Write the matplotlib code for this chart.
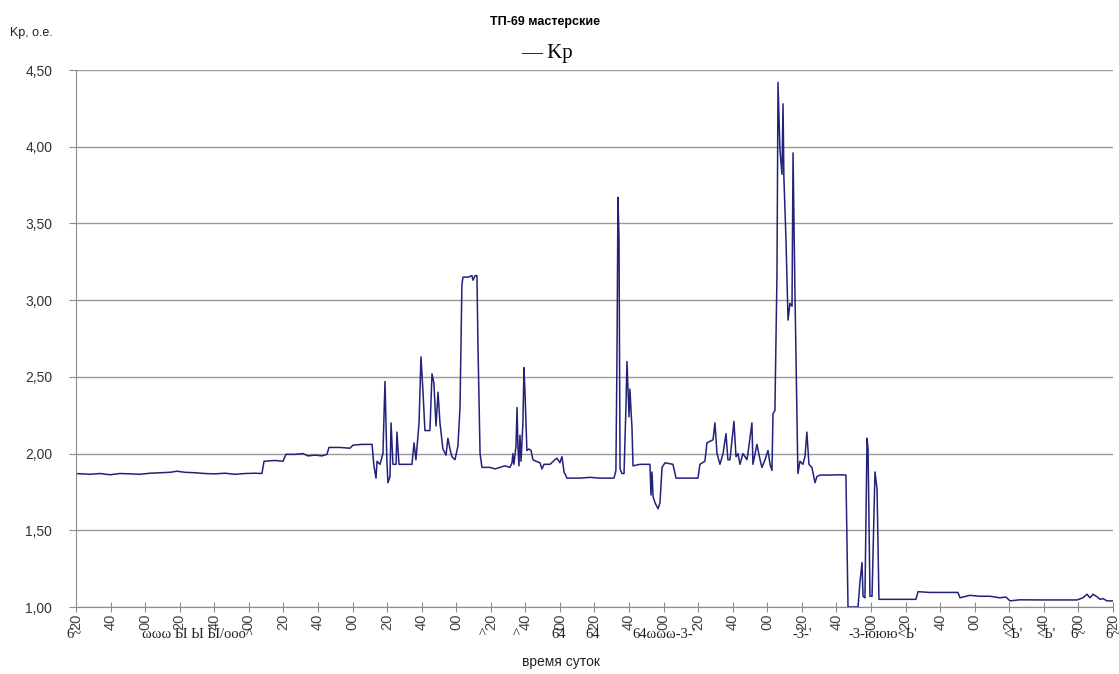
import matplotlib
matplotlib.use('Agg')
import matplotlib.pyplot as plt

# время, минуты от 6:20
minutes = [0, 8.1, 13.9, 19.7, 25.5, 31.2, 37.0, 42.8, 48.6, 54.4, 58.4, 63.1, 68.9, 74.6,
           80.4, 86.2, 92.0, 97.8, 103.6, 107.6, 108.8, 115.1, 119.8, 121.5, 126.7, 131.3,
           134.2, 138.3, 142.3, 145.2, 146.4, 152.8, 158.5, 160.3, 165.5, 171.3,
           172.4, 173.6, 174.2, 175.9, 177.6, 178.8, 179.9, 180.5, 181.7, 182.3, 183.4,
           185.2, 185.7, 186.9, 190.4, 194.4, 195.6, 196.7, 198.5, 199.6, 200.8, 201.9,
           204.8, 206.0, 207.1, 208.3, 209.5, 210.6, 212.3, 214.1, 215.2, 216.4, 217.5,
           219.3, 221.0, 222.2, 223.3, 223.9, 226.8, 229.1, 229.7, 230.9, 232.0, 232.6,
           233.8, 234.9, 239.6, 242.4, 245.3, 248.2, 251.1, 252.3, 252.8, 253.4, 254.6,
           255.2, 255.7, 256.3, 256.9, 257.5, 258.6, 259.2, 259.8, 260.9, 262.1, 263.3,
           264.4, 266.2, 268.5, 269.6, 270.8, 274.3, 277.1, 278.3, 280.0, 281.2, 282.4,
           284.1, 291.6, 297.4, 303.2, 311.3, 312.4, 313.0, 313.6, 314.2, 314.8, 315.9,
           317.1, 318.2, 318.8, 320.0, 320.5, 321.7, 322.3, 326.3, 332.1, 332.7, 333.3,
           333.9, 335.0, 336.8, 337.9, 339.1, 340.8, 345.4, 347.2, 355.3, 359.9, 361.0,
           363.9, 365.1, 368.6, 369.7, 370.9, 372.6, 374.4, 376.1, 377.2, 378.4, 380.7,
           381.9, 383.0, 384.2, 385.9, 388.2, 388.8, 391.1, 391.7, 394.0, 395.8, 396.9,
           398.7, 400.4, 401.6, 402.7, 403.3, 404.4, 405.6, 406.2, 407.3, 408.5, 409.1,
           409.6, 410.8, 412.0, 413.1, 414.3, 414.9, 416.0, 417.2, 417.7, 418.9, 420.6,
           421.8, 422.9, 424.1, 425.8, 427.6, 428.7, 430.5, 436.3, 442.0, 445.5, 446.7,
           452.5, 453.6, 454.8, 455.4, 456.5, 457.7, 458.3, 459.4, 460.6, 462.3, 463.5,
           464.6, 471.0, 476.7, 486.0, 487.2, 494.1, 502.8, 510.3, 511.5, 513.2, 517.2,
           523.0, 528.8, 534.6, 538.1, 540.4, 546.2, 557.8, 569.3, 579.2, 582.6, 585.0,
           586.7, 588.4, 590.7, 592.5, 594.2, 596.5, 600.0]

kp = [1.87, 1.865, 1.87, 1.862, 1.87, 1.868, 1.865, 1.872, 1.875, 1.878, 1.885, 1.878, 1.875, 1.87,
      1.868, 1.872, 1.865, 1.87, 1.872, 1.87, 1.95, 1.955, 1.95, 1.995, 1.995, 2.0,
      1.985, 1.99, 1.985, 1.995, 2.04, 2.04, 2.035, 2.055, 2.06, 2.06,
      1.92, 1.84, 1.95, 1.93, 2.0, 2.47, 1.95, 1.81, 1.85, 2.20, 1.93,
      1.93, 2.14, 1.93, 1.93, 1.93, 2.07, 1.96, 2.2, 2.63, 2.4, 2.15,
      2.15, 2.52, 2.46, 2.18, 2.40, 2.2, 2.03, 1.99, 2.1, 2.03, 1.98,
      1.96, 2.05, 2.3, 3.1, 3.15, 3.15, 3.16, 3.13, 3.16, 3.16, 2.7,
      2.0, 1.91, 1.91, 1.90, 1.91, 1.92, 1.91, 1.94, 2.0, 1.93, 2.05,
      2.30, 2.05, 1.92, 2.12, 1.95, 2.2, 2.56, 2.4, 2.02, 2.03, 2.02,
      1.96, 1.95, 1.94, 1.9, 1.93, 1.93, 1.96, 1.97, 1.94, 1.98, 1.88,
      1.84, 1.84, 1.845, 1.84, 1.84, 1.89, 2.6, 3.67, 3.4, 1.9, 1.87,
      1.87, 2.3, 2.6, 2.24, 2.42, 2.17, 1.92, 1.93, 1.93, 1.73, 1.88,
      1.72, 1.68, 1.64, 1.68, 1.91, 1.94, 1.93, 1.84, 1.84, 1.84, 1.93,
      1.95, 2.07, 2.09, 2.20, 2.0, 1.93, 2.0, 2.13, 1.96, 1.96, 2.21,
      1.98, 2.0, 1.93, 2.0, 1.96, 2.0, 2.20, 1.93, 2.06, 1.96, 1.91,
      1.96, 2.02, 1.93, 1.89, 2.26, 2.28, 3.17, 4.42, 3.98, 3.82, 4.28,
      3.80, 3.4, 2.87, 2.98, 2.96, 3.96, 3.05, 2.19, 1.87, 1.95, 1.93,
      1.98, 2.14, 1.93, 1.91, 1.81, 1.85, 1.86, 1.86, 1.862, 1.86, 1.0,
      1.0, 1.16, 1.29, 1.07, 1.06, 2.10, 2.03, 1.07, 1.07, 1.88, 1.77,
      1.05, 1.05, 1.05, 1.05, 1.10, 1.095, 1.095, 1.095, 1.06, 1.065, 1.076,
      1.07, 1.07, 1.06, 1.065, 1.04, 1.047, 1.046, 1.046, 1.046, 1.06, 1.083,
      1.06, 1.083, 1.068, 1.05, 1.055, 1.04, 1.04]

# подписи оси X (минуты), каждые 20 минут
tick_minutes = list(range(0, 601, 20))
tick_labels = ['20', '40', '00'] * 10 + ['20']

# обрывки подписей часов под осью (как на исходнике)
hour_bits = [(-1, '6~'), (70, 'ωωω Ы Ы Ы/ooo^'), (235, '^'), (255, '^'),
             (279, '64'), (299, '64'), (340, '64ωωω-3-\''), (420, '-3-\''),
             (467, '-3-ююю<Ь\''), (542, '<Ь\''), (561, '<Ь\''), (580, '6~'), (600, '6~')]

y_ticks = [1.0, 1.5, 2.0, 2.5, 3.0, 3.5, 4.0, 4.5]

grey = '#8c8c8c'

fig = plt.figure(figsize=(11.19, 6.74), dpi=100)
ax = fig.add_axes([0.0679, 0.0994, 0.9267, 0.7967])

ax.plot(minutes, kp, color='#22227a', linewidth=1.1)

ax.set_xlim(0, 600)
ax.set_ylim(1.0, 4.5)
ax.set_yticks(y_ticks)
ax.set_yticklabels([f'{v:.2f}'.replace('.', ',') for v in y_ticks],
                   fontsize=10, color='#333333', family='Liberation Sans')
ax.set_xticks(tick_minutes)
ax.set_xticklabels(tick_labels, rotation=90, fontsize=10.5, color='#444444',
                   family='Liberation Sans')

ax.grid(axis='y', color='#9a9a9a', linewidth=1.0)
ax.set_axisbelow(True)
for side in ['top', 'right']:
    ax.spines[side].set_visible(False)
for side in ['left', 'bottom']:
    ax.spines[side].set_color(grey)
ax.tick_params(axis='x', direction='inout', length=7, color=grey, pad=1)
ax.tick_params(axis='y', direction='out', length=5, color=grey, pad=12)

# горизонтальные обрывки подписей часов
for m, txt in hour_bits:
    ax.text(m, -0.052, txt, transform=ax.get_xaxis_transform(), ha='center', va='center',
            fontsize=10.5, family='Liberation Serif', color='#222222')

fig.text(0.487, 0.967, 'ТП-69 мастерские', ha='center', va='center',
         fontsize=9, fontweight='bold', family='Liberation Sans')
fig.text(0.009, 0.951, 'Kp, o.e.', ha='left', va='center', fontsize=9,
         family='Liberation Sans', color='#222222')
fig.text(0.489, 0.921, '— Kp', ha='center', va='center', fontsize=15,
         family='Liberation Serif')
ax.set_xlabel('время суток', fontsize=10, family='Liberation Sans', color='#222222')
ax.xaxis.set_label_coords(0.468, -0.09)

plt.savefig('out.png', dpi=100)
